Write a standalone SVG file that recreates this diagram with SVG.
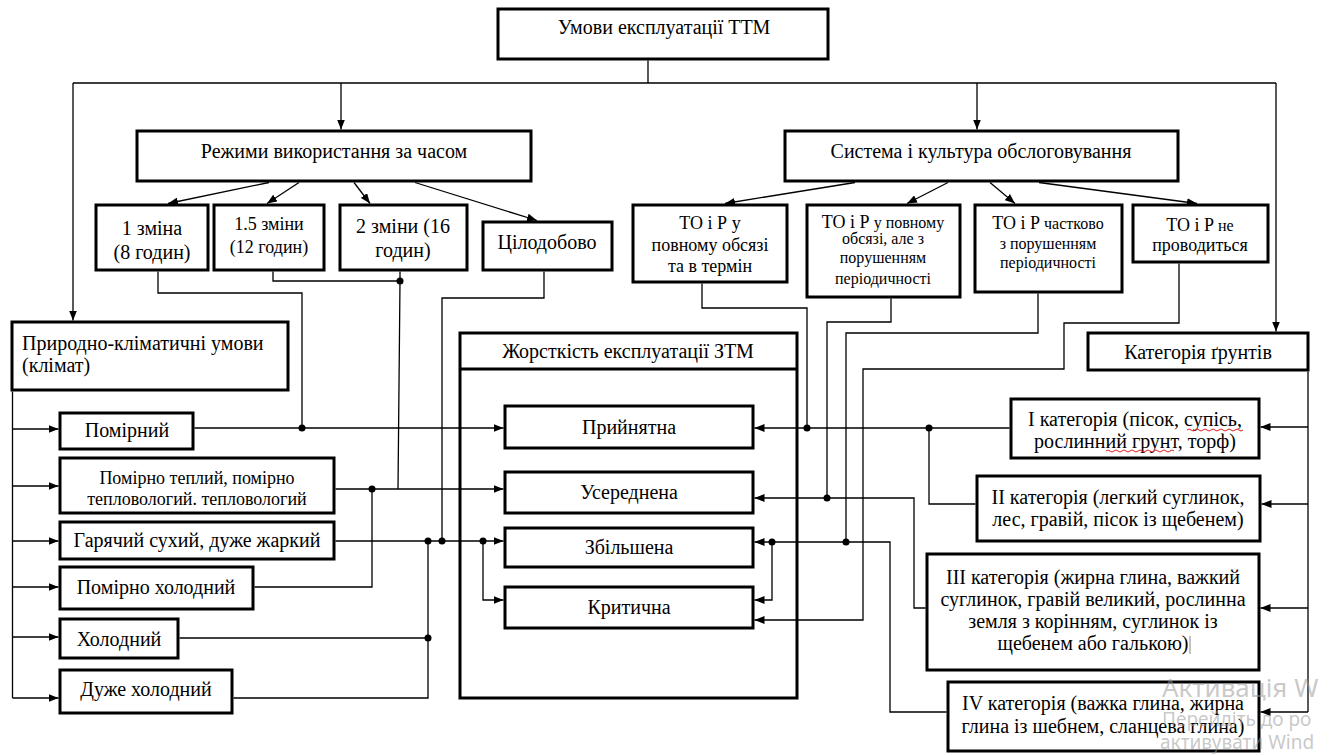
<svg xmlns="http://www.w3.org/2000/svg" width="1324" height="755" viewBox="0 0 1324 755">
  <style>
    .box{fill:#fff;stroke:#000;stroke-width:3}
    .t{font-family:"Liberation Serif","Times New Roman",serif;font-size:20px;fill:#000;text-anchor:middle}
    .l{text-anchor:start}
    .m{font-size:18px}
    .s{font-size:16px}
    .w{fill:none;stroke:#000;stroke-width:1.3}
    .a{marker-end:url(#ah)}
    .d{fill:#000}
    .sq{fill:none;stroke:#e02020;stroke-width:1}
    .wm{font-family:"Noto Sans","Open Sans",sans-serif;fill:#9a9a9a;fill-opacity:0.55}
  </style>
  <defs>
    <marker id="ah" viewBox="0 0 10 8" refX="10" refY="4" markerWidth="10" markerHeight="8" markerUnits="userSpaceOnUse" orient="auto">
      <path d="M0,0 L10,4 L0,8 z" fill="#000"/>
    </marker>
  </defs>
  <rect width="1324" height="755" fill="#fff"/>

  <!-- top level -->
  <g id="n-umovy">
    <rect class="box" x="498" y="9" width="330" height="50"/>
    <text class="t" x="664" y="34">Умови експлуатації ТТМ</text>
  </g>
  <g id="n-rezhymy">
    <rect class="box" x="137" y="131" width="394" height="50"/>
    <text class="t" x="334" y="158">Режими використання за часом</text>
  </g>
  <g id="n-systema">
    <rect class="box" x="785" y="131" width="393" height="50"/>
    <text class="t" x="981" y="158">Система і культура обслоговування</text>
  </g>

  <!-- usage modes -->
  <g id="n-zmina1">
    <rect class="box" x="96" y="205" width="112" height="65"/>
    <text class="t" x="152" y="235">1 зміна</text>
    <text class="t" x="152" y="259">(8 годин)</text>
  </g>
  <g id="n-zmina15">
    <rect class="box" x="214" y="205" width="110" height="65"/>
    <text class="t m" x="269" y="230">1.5 зміни</text>
    <text class="t m" x="269" y="253">(12 годин)</text>
  </g>
  <g id="n-zmina2">
    <rect class="box" x="340" y="205" width="127" height="65"/>
    <text class="t" x="403" y="233">2 зміни (16</text>
    <text class="t" x="403" y="257">годин)</text>
  </g>
  <g id="n-tsilodobovo">
    <rect class="box" x="483" y="222" width="129" height="48"/>
    <text class="t" x="547" y="249">Цілодобово</text>
  </g>

  <!-- maintenance -->
  <g id="n-to1">
    <rect class="box" x="633" y="205" width="154" height="77"/>
    <text class="t m" x="710" y="229">ТО і Р у</text>
    <text class="t m" x="710" y="251">повному обсязі</text>
    <text class="t m" x="710" y="272">та в термін</text>
  </g>
  <g id="n-to2">
    <rect class="box" x="807" y="205" width="153" height="92"/>
    <text class="t s" x="883" y="228"><tspan class="m">ТО і Р</tspan> у повному</text>
    <text class="t s" x="883" y="244">обсязі, але з</text>
    <text class="t s" x="883" y="263">порушенням</text>
    <text class="t s" x="883" y="284">періодичності</text>
  </g>
  <g id="n-to3">
    <rect class="box" x="975" y="205" width="147" height="87"/>
    <text class="t s" x="1048" y="229"><tspan class="m">ТО і Р</tspan> частково</text>
    <text class="t s" x="1048" y="249">з порушенням</text>
    <text class="t s" x="1048" y="268">періодичності</text>
  </g>
  <g id="n-to4">
    <rect class="box" x="1133" y="205" width="135" height="57"/>
    <text class="t s" x="1200" y="231"><tspan class="m">ТО і Р</tspan> не</text>
    <text class="t m" x="1200" y="251">проводиться</text>
  </g>

  <!-- climate -->
  <g id="n-klimat">
    <rect class="box" x="12" y="322" width="276" height="68"/>
    <text class="t l" x="22" y="350">Природно-кліматичні умови</text>
    <text class="t l" x="22" y="372">(клімат)</text>
  </g>
  <g id="n-pomirnyi">
    <rect class="box" x="60" y="413" width="133" height="36"/>
    <text class="t" x="127" y="437">Помірний</text>
  </g>
  <g id="n-pomirno-teplyi">
    <rect class="box" x="60" y="458" width="274" height="55"/>
    <text class="t m" x="197" y="484">Помірно теплий, помірно</text>
    <text class="t m" x="197" y="505">тепловологий. тепловологий</text>
  </g>
  <g id="n-hariachyi">
    <rect class="box" x="60" y="522" width="274" height="37"/>
    <text class="t" x="197" y="547">Гарячий сухий, дуже жаркий</text>
  </g>
  <g id="n-pomirno-kholodnyi">
    <rect class="box" x="60" y="567" width="193" height="42"/>
    <text class="t" x="156" y="594">Помірно холодний</text>
  </g>
  <g id="n-kholodnyi">
    <rect class="box" x="60" y="619" width="118" height="39"/>
    <text class="t" x="119" y="646">Холодний</text>
  </g>
  <g id="n-duzhe-kholodnyi">
    <rect class="box" x="60" y="670" width="172" height="43"/>
    <text class="t" x="146" y="696">Дуже холодний</text>
  </g>

  <!-- severity -->
  <g id="n-zhorstkist">
    <rect class="box" x="460" y="333" width="337" height="365"/>
    <line x1="460" y1="369" x2="797" y2="369" stroke="#000" stroke-width="3"/>
    <text class="t" x="628" y="358">Жорсткість експлуатації ЗТМ</text>
  </g>
  <g id="n-pryiniatna">
    <rect class="box" x="505" y="406" width="248" height="42"/>
    <text class="t" x="629" y="434">Прийнятна</text>
  </g>
  <g id="n-userednena">
    <rect class="box" x="505" y="472" width="248" height="41"/>
    <text class="t" x="629" y="499">Усереднена</text>
  </g>
  <g id="n-zbilshena">
    <rect class="box" x="505" y="528" width="248" height="39"/>
    <text class="t" x="629" y="554">Збільшена</text>
  </g>
  <g id="n-krytychna">
    <rect class="box" x="505" y="587" width="248" height="41"/>
    <text class="t" x="629" y="614">Критична</text>
  </g>

  <!-- soils -->
  <g id="n-gruntiv">
    <rect class="box" x="1088" y="333" width="220" height="37"/>
    <text class="t" x="1198" y="359">Категорія ґрунтів</text>
  </g>
  <g id="n-cat1">
    <rect class="box" x="1011" y="399" width="248" height="59"/>
    <text class="t" x="1135" y="426">І категорія (пісок, супісь,</text>
    <text class="t" x="1135" y="448">рослинний грунт, торф)</text>
    <path class="sq" d="M1187,430 q2,-2 4,0 t4,0 t4,0 t4,0 t4,0 t4,0 t4,0 t4,0 t4,0 t4,0 t4,0 t4,0 t4,0 t4,0"/>
    <path class="sq" d="M1106,451 q2,-2 4,0 t4,0 t4,0 t4,0 t4,0 t4,0 t4,0 t4,0 t4,0 t4,0 t4,0 t4,0 t4,0 t4,0 t4,0 t4,0 t4,0"/>
  </g>
  <g id="n-cat2">
    <rect class="box" x="977" y="476" width="283" height="65"/>
    <text class="t" x="1118" y="504">ІІ категорія (легкий суглинок,</text>
    <text class="t" x="1118" y="526">лес, гравій, пісок із щебенем)</text>
  </g>
  <g id="n-cat3">
    <rect class="box" x="927" y="554" width="332" height="116"/>
    <text class="t" x="1093" y="584">ІІІ категорія (жирна глина, важкий</text>
    <text class="t" x="1093" y="606">суглинок, гравій великий, рослинна</text>
    <text class="t" x="1093" y="628">земля з корінням, суглинок із</text>
    <text class="t" x="1093" y="650">щебенем або галькою)</text>
    <line x1="1190" y1="636" x2="1190" y2="654" stroke="#888" stroke-width="1"/>
  </g>
  <g id="n-cat4">
    <rect class="box" x="948" y="682" width="311" height="69"/>
    <text class="t" x="1103" y="710">IV категорія (важка глина, жирна</text>
    <text class="t" x="1103" y="733">глина із шебнем, сланцева глина)</text>
  </g>

  <g id="connectors">
    <!-- top distribution -->
    <path class="w" d="M648,60.5 V83 M73,83 H1276"/>
    <path class="w a" d="M341,83 V129.5"/>
    <path class="w a" d="M977,83 V129.5"/>
    <path class="w a" d="M73,83 V320.5"/>
    <path class="w a" d="M1276,83 V331.5"/>
    <!-- usage modes -->
    <path class="w a" d="M269,182.5 L168,203.5"/>
    <path class="w a" d="M299,182.5 L267,203.5"/>
    <path class="w a" d="M354,182.5 L370,203.5"/>
    <path class="w a" d="M415,182.5 L537,220.5"/>
    <!-- maintenance -->
    <path class="w a" d="M855,182.5 L725,203.5"/>
    <path class="w a" d="M948,182.5 L907,203.5"/>
    <path class="w a" d="M990,182.5 L1015,203.5"/>
    <path class="w a" d="M1039,182.5 L1197,203.5"/>
    <!-- climate spine -->
    <path class="w" d="M12.5,391.5 V698"/>
    <path class="w a" d="M12.5,429 H58.5"/>
    <path class="w a" d="M12.5,486 H58.5"/>
    <path class="w a" d="M12.5,541 H58.5"/>
    <path class="w a" d="M12.5,587 H58.5"/>
    <path class="w a" d="M12.5,637 H58.5"/>
    <path class="w a" d="M12.5,698 H58.5"/>
    <!-- soil spine -->
    <path class="w" d="M1308,371.5 V712"/>
    <path class="w a" d="M1308,427 H1260.5"/>
    <path class="w a" d="M1308,504 H1261.5"/>
    <path class="w a" d="M1308,608 H1260.5"/>
    <path class="w a" d="M1308,712 H1260.5"/>
    <!-- left links to severity -->
    <path class="w" d="M158,271.5 V293 H302 V428"/>
    <path class="w a" d="M194.5,428 H503.5"/>
    <path class="w" d="M273,271.5 V281 H400"/>
    <path class="w" d="M400,271.5 V281 L398,489"/>
    <path class="w a" d="M335.5,489 H503.5"/>
    <path class="w" d="M372,489 V587 H254.5"/>
    <path class="w" d="M544,271.5 V298 H442 V541"/>
    <path class="w a" d="M335.5,541 H503.5"/>
    <path class="w" d="M428,541 V698 H233.5"/>
    <path class="w" d="M179.5,638 H428"/>
    <path class="w a" d="M483,541 V600 H503.5"/>
    <!-- right links to severity -->
    <path class="w" d="M702,283.5 V308 H807 V428"/>
    <path class="w a" d="M1009.5,428 H754.5"/>
    <path class="w" d="M929,428 V504 H975.5"/>
    <path class="w" d="M891,298.5 V322 H827 V498"/>
    <path class="w a" d="M925.5,608 H914 V498 H754.5"/>
    <path class="w" d="M1038,293.5 V333 H846 V542"/>
    <path class="w a" d="M946.5,712 H890 V542 H754.5"/>
    <path class="w a" d="M772,542 V600 H754.5"/>
    <path class="w a" d="M1179,263.5 V323 H1064 V369 H863 V620 H754.5"/>
    <!-- junctions -->
    <circle class="d" cx="302" cy="428" r="3.5"/>
    <circle class="d" cx="400" cy="281" r="3.5"/>
    <circle class="d" cx="372" cy="489" r="3.5"/>
    <circle class="d" cx="428" cy="541" r="3.5"/>
    <circle class="d" cx="442" cy="541" r="3.5"/>
    <circle class="d" cx="483" cy="541" r="3.5"/>
    <circle class="d" cx="428" cy="638" r="3.5"/>
    <circle class="d" cx="807" cy="428" r="3.5"/>
    <circle class="d" cx="929" cy="428" r="3.5"/>
    <circle class="d" cx="827" cy="498" r="3.5"/>
    <circle class="d" cx="846" cy="542" r="3.5"/>
    <circle class="d" cx="772" cy="542" r="3.5"/>
  </g>

  <g id="watermark">
    <text class="wm" x="1162" y="697" font-size="26">Активація W</text>
    <text class="wm" x="1162" y="726" font-size="19">Перейдіть до ро</text>
    <text class="wm" x="1160" y="749" font-size="19">активувати Wind</text>
  </g>
</svg>
